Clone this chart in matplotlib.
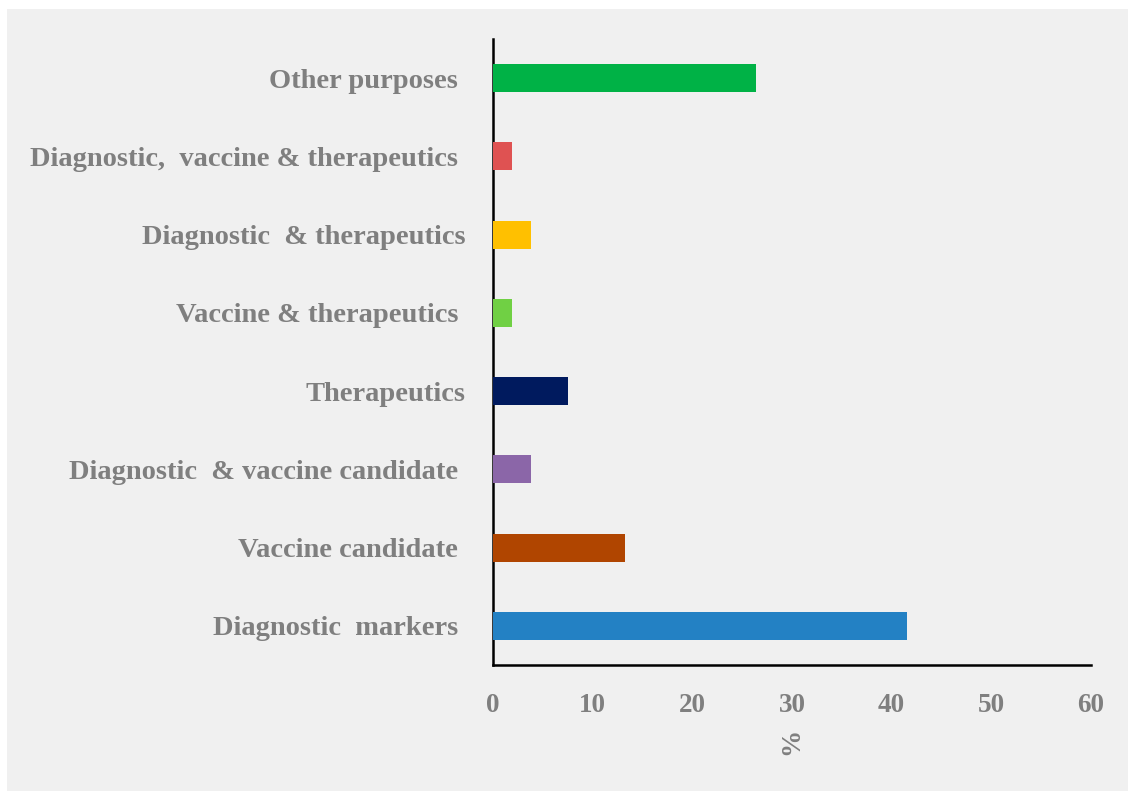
import matplotlib
matplotlib.use("Agg")
import matplotlib.pyplot as plt
from matplotlib.patches import Rectangle

categories = [
    "Diagnostic  markers ",
    "Vaccine candidate ",
    "Diagnostic  & vaccine candidate ",
    "Therapeutics",
    "Vaccine & therapeutics ",
    "Diagnostic  & therapeutics",
    "Diagnostic,  vaccine & therapeutics ",
    "Other purposes ",
]
percentages = [41.5, 13.2, 3.8, 7.5, 1.9, 3.8, 1.9, 26.4]
bar_colors = ["#2381c4", "#b04500", "#8b66a8", "#001a5e",
              "#70d044", "#ffc000", "#df5252", "#00b246"]
x_ticks = [0, 10, 20, 30, 40, 50, 60]

W, H = 1128, 791
fig = plt.figure(figsize=(W / 100, H / 100), dpi=100, facecolor="white")

# light grey chart area with a thin white margin on the top and left
fig.patches.append(Rectangle((7 / W, 0), 1 - 7 / W, 1 - 9 / H,
                             transform=fig.transFigure, facecolor="#f0f0f0",
                             edgecolor="none", linewidth=0, zorder=-10))

ax = fig.add_axes([493 / W, (H - 665) / H, (1091 - 493) / W, (665 - 39) / H])
ax.set_facecolor("none")

ypos = list(range(len(categories)))
ax.barh(ypos, percentages, height=0.357, color=bar_colors, zorder=3)

ax.set_xlim(0, 60)
ax.set_ylim(-0.5, len(categories) - 0.5)
ax.set_xticks(x_ticks)
ax.set_yticks(ypos)
ax.set_yticklabels(categories)

family = ["Liberation Serif", "DejaVu Serif"]
for lbl in ax.get_yticklabels():
    lbl.set_fontfamily(family)
    lbl.set_fontweight("bold")
    lbl.set_fontsize(20.5)
    lbl.set_color("#7f7f7f")
for lbl in ax.get_xticklabels():
    lbl.set_fontfamily(family)
    lbl.set_fontweight("bold")
    lbl.set_fontsize(19.5)
    lbl.set_color("#7f7f7f")

ax.tick_params(axis="y", length=0, pad=20)
ax.tick_params(axis="x", length=0, pad=20)

for side in ("top", "right"):
    ax.spines[side].set_visible(False)
for side in ("left", "bottom"):
    ax.spines[side].set_linewidth(1.8)
    ax.spines[side].set_color("black")

ax.set_xlabel("%", rotation=90, color="#7f7f7f", fontsize=19.5,
              fontweight="bold", family=family, labelpad=7)

fig.savefig("out.png", dpi=100, facecolor="white")
